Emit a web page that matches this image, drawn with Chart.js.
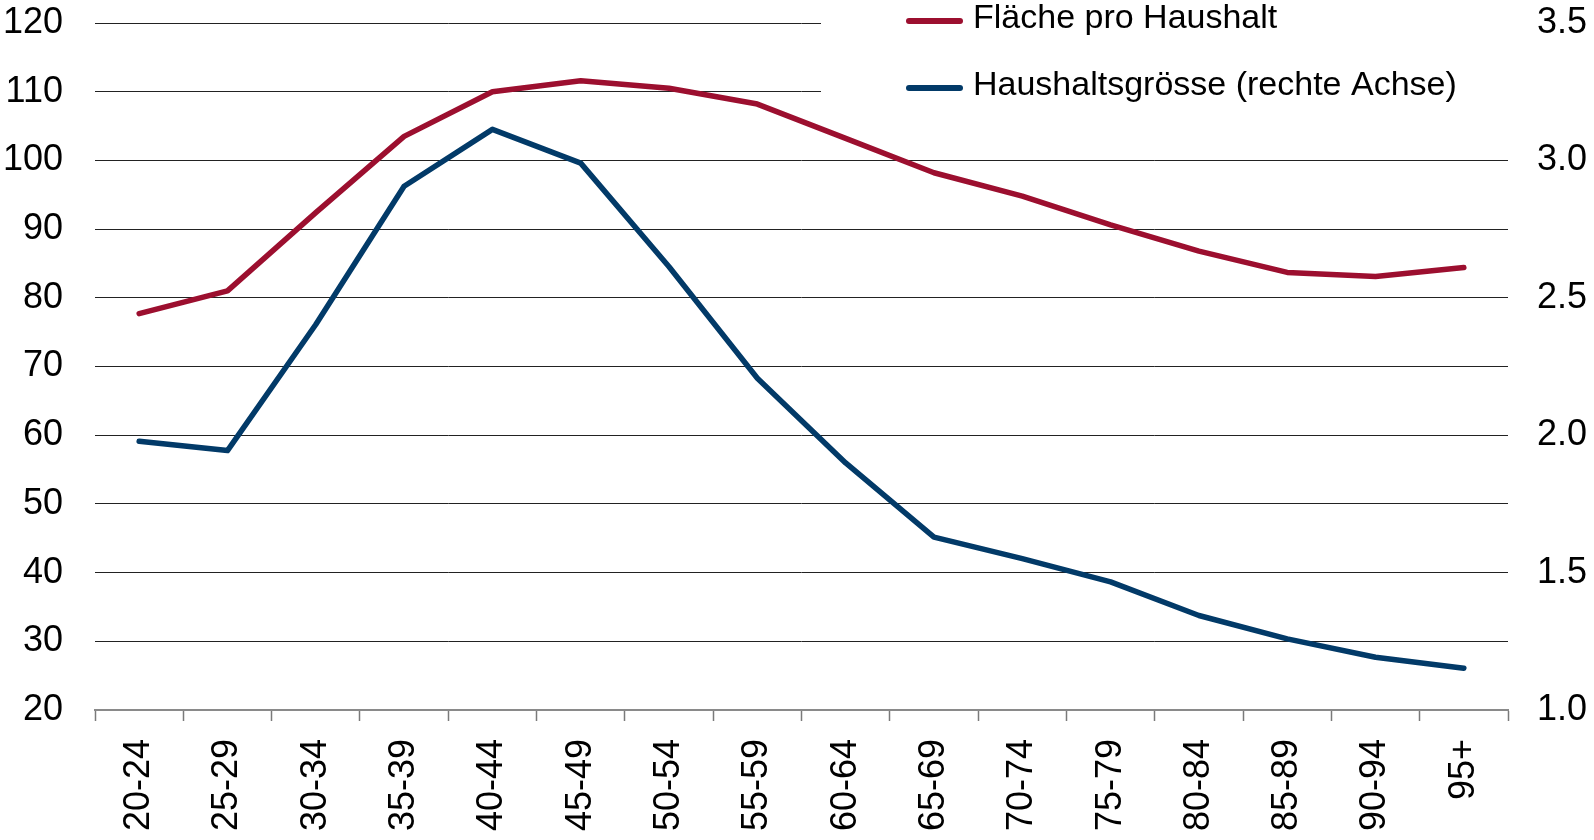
<!DOCTYPE html>
<html><head><meta charset="utf-8">
<script src="https://cdn.jsdelivr.net/npm/chart.js@4.4.1/dist/chart.umd.min.js"></script>
<style>html,body{margin:0;padding:0;background:#fff}#wrap{width:1594px;height:840px}</style>
</head><body><div id="wrap"><canvas id="c" width="1594" height="840"></canvas></div>
<script>
const categories = ['20-24','25-29','30-34','35-39','40-44','45-49','50-54','55-59','60-64','65-69','70-74','75-79','80-84','85-89','90-94','95+'];
const flaecheProHaushalt = [77.7, 81.0, 92.4, 103.5, 110.0, 111.6, 110.5, 108.2, 103.2, 98.2, 94.8, 90.6, 86.8, 83.7, 83.1, 84.4];
const haushaltsgroesse = [1.978, 1.944, 2.403, 2.906, 3.113, 2.990, 2.613, 2.207, 1.899, 1.629, 1.551, 1.466, 1.344, 1.259, 1.192, 1.152];
const leftTicks = [20, 30, 40, 50, 60, 70, 80, 90, 100, 110, 120];
const rightTicks = [1.0, 1.5, 2.0, 2.5, 3.0, 3.5];
const seriesLabels = ['Fläche pro Haushalt', 'Haushaltsgrösse (rechte Achse)'];
const seriesColors = ['#9c0f2f', '#023a68'];

const FONT = '"Liberation Sans", Arial, Helvetica, sans-serif';

const legendPlugin = {
  id: 'customLegend',
  beforeDatasetsDraw(chart) {
    const ctx = chart.ctx, ca = chart.chartArea, yS = chart.scales.y;
    ctx.save();
    ctx.fillStyle = '#fff';
    const x0 = 821;
    ctx.fillRect(x0, 0, ca.right - x0 + 1, yS.getPixelForValue(105));
    ctx.font = '34px ' + FONT;
    ctx.textBaseline = 'middle';
    ctx.textAlign = 'left';
    chart.data.datasets.forEach((ds, i) => {
      const y = 21 + i * 67;
      ctx.strokeStyle = ds.borderColor;
      ctx.lineWidth = 6;
      ctx.lineCap = 'round';
      ctx.beginPath(); ctx.moveTo(909, y); ctx.lineTo(960, y); ctx.stroke();
      ctx.fillStyle = '#000';
      ctx.fillText(ds.label, 973, y - 2);
    });
    ctx.restore();
  }
};

function noPad(s) { s.paddingTop = 0; s.paddingBottom = 0; s.paddingLeft = 0; s.paddingRight = 0; }

new Chart(document.getElementById('c'), {
  type: 'line',
  data: {
    labels: categories,
    datasets: [
      { label: seriesLabels[0], data: flaecheProHaushalt, yAxisID: 'y', borderColor: seriesColors[0], backgroundColor: seriesColors[0], borderWidth: 5.5, pointRadius: 0, tension: 0, borderJoinStyle: 'round', borderCapStyle: 'round' },
      { label: seriesLabels[1], data: haushaltsgroesse, yAxisID: 'y1', borderColor: seriesColors[1], backgroundColor: seriesColors[1], borderWidth: 5.5, pointRadius: 0, tension: 0, borderJoinStyle: 'round', borderCapStyle: 'round' }
    ]
  },
  options: {
    responsive: false,
    devicePixelRatio: 1,
    animation: false,
    layout: { padding: { top: 23, left: 0, right: 0, bottom: 0 } },
    plugins: { legend: { display: false }, tooltip: { enabled: false } },
    scales: {
      x: {
        type: 'category',
        offset: true,
        grid: { offset: true, drawOnChartArea: false, drawTicks: true, tickLength: 11, tickColor: '#7a7a7a', tickWidth: 1.5 },
        border: { display: true, color: '#8a8a8a', width: 2 },
        ticks: { minRotation: 90, maxRotation: 90, autoSkip: false, color: '#000', font: { size: 36, family: FONT }, padding: 18 },
        afterFit(s) { s.height = 130; noPad(s); }
      },
      y: {
        position: 'left',
        min: 20, max: 120,
        afterBuildTicks(s) { s.ticks = leftTicks.map(v => ({ value: v })); },
        ticks: { color: '#000', font: { size: 36, family: FONT }, padding: 32 },
        grid: { color: c => (c.tick && c.tick.value === 20) ? 'rgba(0,0,0,0)' : '#222', lineWidth: 1, drawTicks: false },
        border: { display: false },
        afterFit(s) { s.width = 95; noPad(s); }
      },
      y1: {
        position: 'right',
        min: 1, max: 3.5,
        afterBuildTicks(s) { s.ticks = rightTicks.map(v => ({ value: v })); },
        ticks: { color: '#000', font: { size: 36, family: FONT }, padding: 29, callback: v => Number(v).toFixed(1) },
        grid: { drawOnChartArea: false, drawTicks: false },
        border: { display: false },
        afterFit(s) { s.width = 86; noPad(s); }
      }
    }
  },
  plugins: [legendPlugin]
});
</script>
</body></html>
